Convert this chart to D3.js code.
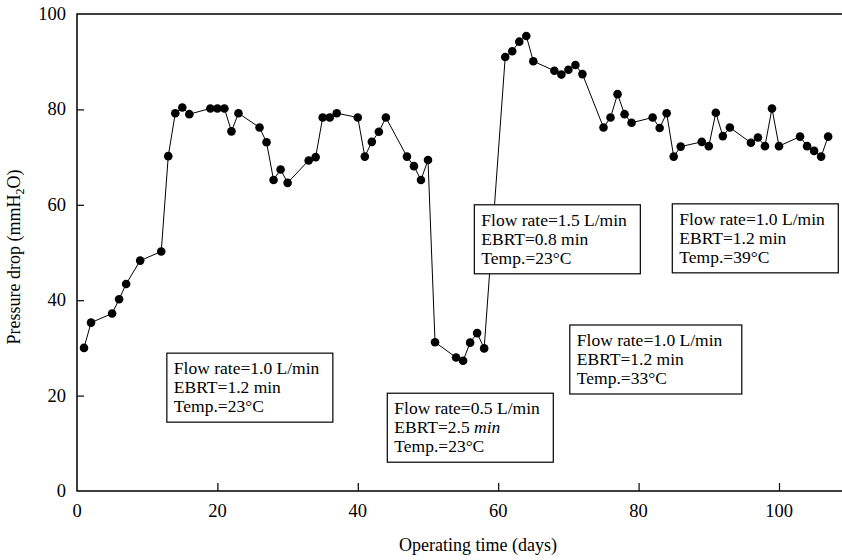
<!DOCTYPE html>
<html>
<head>
<meta charset="utf-8">
<script src="https://cdn.jsdelivr.net/npm/d3@7"></script>
<style>
  body { margin: 0; background: #fff; }
  text { font-family: "Liberation Serif", "DejaVu Serif", serif; fill: #000; }
</style>
</head>
<body>
<div id="chart"></div>
<script>
// operating day and measured pressure drop (mmH2O)
var days = [1, 2, 5, 6, 7, 9, 12, 13, 14, 15, 16, 19, 20, 21, 22, 23, 26, 27, 28, 29, 30,
    33, 34, 35, 36, 37, 40, 41, 42, 43, 44, 47, 48, 49, 50, 51, 54, 55, 56, 57, 58,
    61, 62, 63, 64, 65, 68, 69, 70, 71, 72, 75, 76, 77, 78, 79, 82, 83, 84, 85, 86,
    89, 90, 91, 92, 93, 96, 97, 98, 99, 100, 103, 104, 105, 106, 107];
var pressure = [30, 35.3, 37.2, 40.2, 43.4, 48.3, 50.2, 70.2, 79.2, 80.4, 79, 80.2, 80.2, 80.2, 75.4, 79.2, 76.2, 73.1, 65.2, 67.4, 64.6,
    69.3, 70, 78.3, 78.3, 79.2, 78.3, 70.1, 73.2, 75.3, 78.3, 70.1, 68.1, 65.2, 69.4, 31.2, 28, 27.3, 31.1, 33.1, 29.9,
    91, 92.2, 94.2, 95.4, 90.1, 88.1, 87.3, 88.3, 89.3, 87.4, 76.2, 78.3, 83.2, 79, 77.2, 78.3, 76.1, 79.2, 70.1, 72.2,
    73.2, 72.3, 79.3, 74.4, 76.2, 73, 74.1, 72.3, 80.2, 72.3, 74.3, 72.3, 71.3, 70.1, 74.3];

var xTicks = [0, 20, 40, 60, 80, 100];
var yTicks = [0, 20, 40, 60, 80, 100];

// operating conditions, one box per period ("|" marks italic text)
var conditions = [
    ["Flow rate=1.0 L/min", "EBRT=1.2 min", "Temp.=23\u00b0C"],
    ["Flow rate=0.5 L/min", "EBRT=2.5 |min", "Temp.=23\u00b0C"],
    ["Flow rate=1.5 L/min", "EBRT=0.8 min", "Temp.=23\u00b0C"],
    ["Flow rate=1.0 L/min", "EBRT=1.2 min", "Temp.=33\u00b0C"],
    ["Flow rate=1.0 L/min", "EBRT=1.2 min", "Temp.=39\u00b0C"]
];

// top-left corner of each box, in data units
var boxAt = [[12.8, 28.9], [44.2, 20.5], [56.6, 60], [70.2, 34.8], [84.8, 60.2]];
var boxW = [166, 166, 166, 172, 166];

var width = 842, height = 560;
var svg = d3.select("#chart").append("svg")
    .attr("width", width)
    .attr("height", height);

var x = d3.scaleLinear().domain([0, 100]).range([77, 779]);
var y = d3.scaleLinear().domain([0, 100]).range([491, 14]);

// frame: left, top, bottom (open on the right)
svg.append("path")
    .attr("d", "M" + width + "," + y(100) + "H" + x(0) + "V" + y(0) + "H" + width)
    .attr("fill", "none")
    .attr("stroke", "#000")
    .attr("stroke-width", 1.5);

var xAxis = svg.append("g")
    .attr("transform", "translate(0," + y(0) + ")")
    .call(d3.axisTop(x).tickValues(xTicks.slice(1)).tickSize(8).tickFormat(""));
xAxis.select(".domain").remove();
xAxis.selectAll("line").attr("stroke-width", 1.2);

var yAxis = svg.append("g")
    .attr("transform", "translate(" + x(0) + ",0)")
    .call(d3.axisRight(y).tickValues(yTicks.slice(1, -1)).tickSize(7).tickFormat(""));
yAxis.select(".domain").remove();
yAxis.selectAll("line").attr("stroke-width", 1.2);

svg.append("g").selectAll("text")
    .data(xTicks).enter().append("text")
    .attr("x", function (d) { return x(d); })
    .attr("y", 517)
    .attr("text-anchor", "middle")
    .style("font-size", "18.5px")
    .text(function (d) { return d; });

svg.append("g").selectAll("text")
    .data(yTicks).enter().append("text")
    .attr("x", 66)
    .attr("y", function (d) { return y(d) + 6; })
    .attr("text-anchor", "end")
    .style("font-size", "18.5px")
    .text(function (d) { return d; });

svg.append("text")
    .attr("x", 478)
    .attr("y", 551)
    .attr("text-anchor", "middle")
    .style("font-size", "18px")
    .text("Operating time (days)");

var yTitle = svg.append("text")
    .attr("transform", "translate(20," + 257 + ") rotate(-90)")
    .attr("text-anchor", "middle")
    .style("font-size", "18px");
yTitle.append("tspan").text("Pressure drop (mmH");
yTitle.append("tspan").attr("dy", 4).style("font-size", "12px").text("2");
yTitle.append("tspan").attr("dy", -4).text("O)");

// the series
var pts = days.map(function (d, i) { return [d, pressure[i]]; });

svg.append("path")
    .datum(pts)
    .attr("fill", "none")
    .attr("stroke", "#000")
    .attr("stroke-width", 1)
    .attr("d", d3.line().x(function (d) { return x(d[0]); }).y(function (d) { return y(d[1]); }));

svg.append("g").selectAll("circle")
    .data(pts).enter().append("circle")
    .attr("cx", function (d) { return x(d[0]); })
    .attr("cy", function (d) { return y(d[1]); })
    .attr("r", 4.3)
    .attr("fill", "#000");

// condition boxes
conditions.forEach(function (lines, i) {
    var bx = x(boxAt[i][0]), by = y(boxAt[i][1]);
    var g = svg.append("g").attr("transform", "translate(" + bx + "," + by + ")");
    g.append("rect")
        .attr("width", boxW[i])
        .attr("height", 69)
        .attr("fill", "#fff")
        .attr("stroke", "#000")
        .attr("stroke-width", 1.2);
    lines.forEach(function (line, j) {
        var t = g.append("text")
            .attr("x", 7)
            .attr("y", 21 + j * 19)
            .style("font-size", "17.5px");
        var parts = line.split("|");
        t.append("tspan").text(parts[0]);
        if (parts[1]) t.append("tspan").style("font-style", "italic").text(parts[1]);
    });
});
</script>
</body>
</html>
